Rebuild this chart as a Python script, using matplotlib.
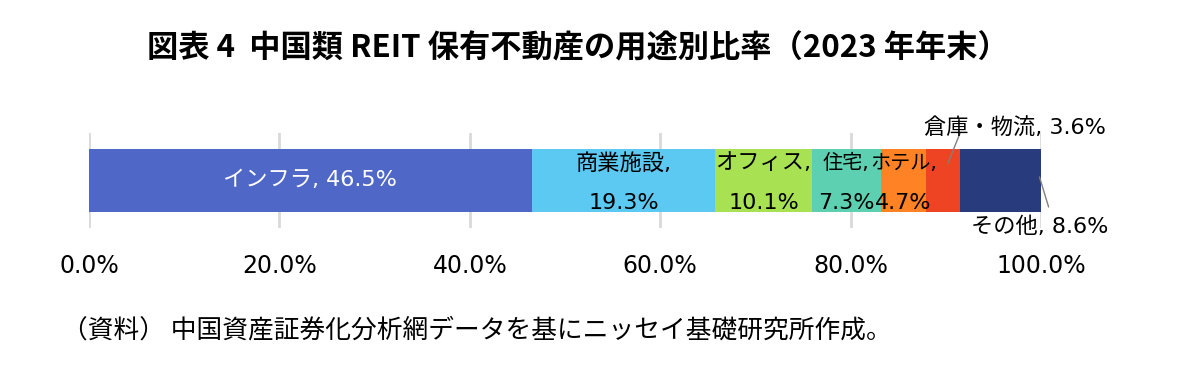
import matplotlib.pyplot as plt

plt.rcParams['font.family'] = ['DejaVu Sans', 'Noto Sans CJK JP']

categories = ['インフラ', '商業施設', 'オフィス', '住宅', 'ホテル', '倉庫・物流', 'その他']
shares = [46.5, 19.3, 10.1, 7.3, 4.7, 3.6, 8.6]
colors = ['#4F67C6', '#5BC9F1', '#A8E253', '#5ED0B2', '#FF8225', '#EE4424', '#283B7C']
tick_vals = [0, 20, 40, 60, 80, 100]

fig = plt.figure(figsize=(11.8, 3.89), dpi=100)
ax = fig.add_axes([89/1180, 1-228/389, (1041-89)/1180, 95/389])

left = 0
lefts = []
for cat, v, c in zip(categories, shares, colors):
    ax.barh(0, v, left=left, height=0.664, color=c, zorder=2)
    lefts.append(left)
    left += v

# labels inside bars
mid = [l + v/2 for l, v in zip(lefts, shares)]
ax.text(mid[0], 0, f'{categories[0]}, {shares[0]}%', ha='center', va='center',
        color='white', fontsize=16, zorder=3)
for i in range(1, 5):
    fs = 16 if i < 3 else 14.5
    ax.text(mid[i], 0.184, f'{categories[i]},', ha='center', va='center', fontsize=fs, zorder=3)
    ax.text(mid[i], -0.237, f'{shares[i]}%', ha='center', va='center', fontsize=16, zorder=3)

# leader labels
line_kw = dict(arrowstyle='-', color='#808080', lw=1, shrinkA=0, shrinkB=0)
ax.annotate('', xy=(lefts[5] + shares[5]*0.65, 0.184), xytext=(lefts[5] + shares[5], 0.5),
            arrowprops=line_kw, annotation_clip=False)
ax.text(97.3, 0.553, f'{categories[5]}, {shares[5]}%', ha='center', va='center',
        fontsize=16, clip_on=False)
ax.annotate('', xy=(lefts[6] + shares[6]*0.97, 0.037), xytext=(lefts[6] + shares[6] + 0.7, -0.279),
            arrowprops=line_kw, annotation_clip=False)
ax.text(99.9, -0.49, f'{categories[6]}, {shares[6]}%', ha='center', va='center',
        fontsize=16, clip_on=False)

ax.set_xlim(0, 100)
ax.set_ylim(-0.5, 0.5)
ax.set_xticks(tick_vals)
ax.set_xticklabels([f'{t:.1f}%' for t in tick_vals], fontsize=17)
ax.tick_params(axis='x', length=0, pad=19)
ax.set_yticks([])
for s in ax.spines.values():
    s.set_visible(False)
ax.grid(axis='x', color='#D9D9D9', lw=2, zorder=0)

fig.text(578/1180, 1-48/389, '図表 4  中国類 REIT 保有不動産の用途別比率（2023 年年末）',
         ha='center', va='center', fontsize=22.5, fontweight='bold',
         family=['Noto Sans CJK JP', 'DejaVu Sans'])
fig.text(62/1180, 1-330/389, '（資料） 中国資産証券化分析網データを基にニッセイ基礎研究所作成。',
         ha='left', va='center', fontsize=18.5, family=['Noto Sans CJK JP', 'DejaVu Sans'])

fig.savefig('out.png', dpi=100)
